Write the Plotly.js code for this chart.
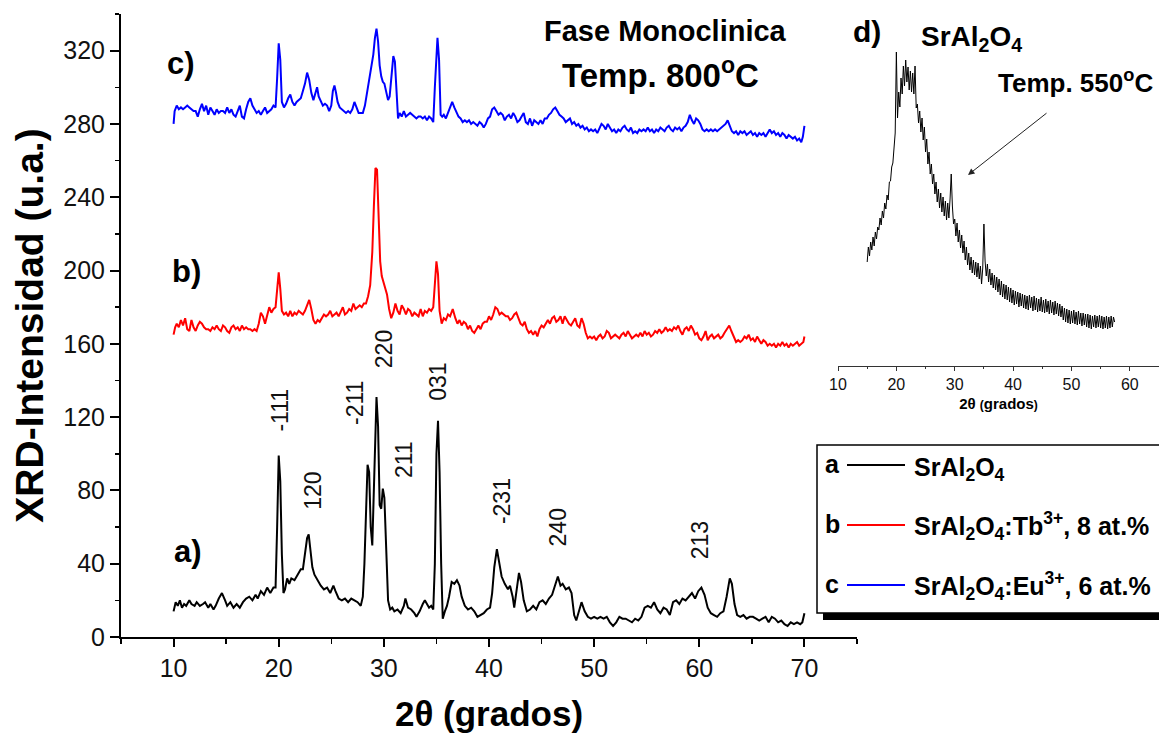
<!DOCTYPE html>
<html>
<head>
<meta charset="utf-8">
<script src="https://cdn.plot.ly/plotly-3.0.1.min.js"></script>
<style>html,body{margin:0;padding:0;background:#fff;}#chart{width:1159px;height:734px;}</style>
</head>
<body>
<div id="chart"></div>
<script>
// ---- Data: series a (SrAl2O4), b (Tb3+), c (Eu3+) ----
const xA = [10.0,10.2,10.4,10.6,10.8,11.0,11.2,11.5,11.7,12.0,12.2,12.5,12.8,13.0,13.3,13.5,13.8,14.0,14.3,14.6,14.9,15.1,15.4,15.7,16.0,16.3,16.6,16.9,17.2,17.5,17.8,18.0,18.3,18.6,18.9,19.2,19.5,19.7,19.85,20.0,20.15,20.3,20.45,20.6,20.8,21.0,21.2,21.5,21.8,22.1,22.3,22.5,22.7,22.85,23.0,23.2,23.4,23.7,24.0,24.3,24.6,24.9,25.2,25.4,25.7,26.0,26.3,26.6,26.9,27.2,27.5,27.8,28.0,28.15,28.3,28.45,28.6,28.75,28.9,29.05,29.2,29.3,29.45,29.6,29.75,29.9,30.05,30.2,30.4,30.6,30.8,31.0,31.3,31.6,31.9,32.05,32.3,32.6,32.9,33.1,33.4,33.7,33.9,34.1,34.3,34.5,34.7,34.85,35.0,35.15,35.3,35.45,35.6,35.8,36.0,36.2,36.45,36.7,36.95,37.2,37.4,37.7,38.0,38.3,38.6,38.9,39.2,39.5,39.8,40.1,40.3,40.5,40.75,40.95,41.2,41.5,41.8,42.0,42.25,42.4,42.6,42.85,43.05,43.3,43.6,43.9,44.2,44.5,44.8,45.1,45.4,45.7,46.0,46.3,46.55,46.8,47.0,47.3,47.6,47.85,48.1,48.3,48.55,48.8,49.1,49.4,49.7,50.0,50.3,50.6,50.9,51.2,51.5,51.8,52.1,52.4,52.7,53.0,53.3,53.6,53.9,54.2,54.5,54.8,55.1,55.4,55.7,56.0,56.3,56.6,56.9,57.2,57.5,57.8,58.1,58.4,58.7,59.0,59.3,59.6,59.9,60.2,60.5,60.8,61.1,61.4,61.7,62.0,62.3,62.6,62.9,63.1,63.35,63.6,63.9,64.2,64.5,64.8,65.1,65.4,65.7,66.0,66.3,66.6,66.9,67.2,67.5,67.8,68.1,68.4,68.7,69.0,69.3,69.6,69.8,70.0];
const yA = [14,19,17,20,16,18,17,20,18,17,19,17,18,19,16,18,15,17,21,24,20,17,19,16,18,16,19,21,22,20,23,21,25,23,27,24,27,27,60,99,85,45,24,26,32,29,32,31,34,37,37,45,54,56,48,38,34,31,28,26,27,24,28,25,21,20,21,19,21,20,19,17,22,40,75,94,90,60,50,85,120,131,115,72,70,81,76,50,20,15,16,14,15,13,17,21,16,15,13,11,14,18,20,18,16,17,15,40,100,118,90,40,10,14,17,22,30,29,31,28,22,17,15,16,14,11,12,13,15,16,24,38,48,42,33,29,26,28,22,16,25,35,30,20,14,15,17,15,19,20,18,21,23,29,33,28,29,26,27,24,12,9,14,19,14,11,10,11,10,11,10,11,8,6,8,11,10,10,9,8,10,9,11,16,17,16,19,15,13,16,15,12,19,20,18,21,20,22,24,21,25,27,23,16,13,12,11,13,14,22,32,29,18,12,11,12,10,11,11,10,9,10,11,8,11,10,8,9,7,6,8,7,8,7,8,13];

const xB = [10.0,10.15,10.3,10.5,10.7,10.9,11.1,11.3,11.5,11.7,11.9,12.1,12.3,12.5,12.7,12.9,13.1,13.3,13.5,13.7,13.9,14.1,14.3,14.5,14.7,14.9,15.1,15.3,15.5,15.7,15.9,16.1,16.3,16.5,16.7,16.9,17.1,17.3,17.5,17.7,17.9,18.1,18.3,18.5,18.7,18.9,19.1,19.3,19.5,19.7,19.85,20.0,20.15,20.3,20.5,20.7,20.9,21.1,21.3,21.5,21.7,21.9,22.1,22.3,22.5,22.7,22.9,23.1,23.3,23.5,23.7,23.9,24.1,24.3,24.5,24.7,24.9,25.1,25.3,25.5,25.7,25.9,26.1,26.3,26.5,26.7,26.9,27.1,27.3,27.5,27.7,27.9,28.1,28.3,28.5,28.7,28.9,29.05,29.2,29.35,29.5,29.65,29.8,29.95,30.1,30.3,30.5,30.7,30.9,31.1,31.3,31.5,31.7,31.9,32.1,32.3,32.5,32.7,32.9,33.1,33.3,33.5,33.7,33.9,34.1,34.3,34.5,34.7,34.85,35.0,35.15,35.3,35.5,35.7,35.9,36.1,36.3,36.55,36.8,37.0,37.2,37.4,37.6,37.8,38.0,38.2,38.4,38.6,38.8,39.0,39.2,39.4,39.6,39.8,40.0,40.2,40.4,40.6,40.8,41.0,41.2,41.4,41.6,41.8,42.0,42.2,42.4,42.6,42.8,43.0,43.2,43.4,43.6,43.8,44.0,44.2,44.4,44.6,44.8,45.0,45.2,45.4,45.6,45.8,46.0,46.2,46.4,46.6,46.8,47.0,47.2,47.4,47.6,47.8,48.0,48.2,48.4,48.6,48.8,49.0,49.2,49.4,49.6,49.8,50.0,50.2,50.4,50.6,50.8,51.0,51.2,51.4,51.6,51.8,52.0,52.2,52.4,52.6,52.8,53.0,53.2,53.4,53.6,53.8,54.0,54.2,54.4,54.6,54.8,55.0,55.2,55.4,55.6,55.8,56.0,56.2,56.4,56.6,56.8,57.0,57.2,57.4,57.6,57.8,58.0,58.2,58.4,58.6,58.8,59.0,59.2,59.4,59.6,59.8,60.0,60.2,60.4,60.6,60.8,61.0,61.2,61.4,61.6,61.8,62.0,62.2,62.4,62.6,62.85,63.05,63.3,63.5,63.7,63.9,64.1,64.3,64.5,64.7,64.9,65.1,65.3,65.5,65.7,65.9,66.1,66.3,66.5,66.7,66.9,67.1,67.3,67.5,67.7,67.9,68.1,68.3,68.5,68.7,68.9,69.1,69.3,69.5,69.7,69.9,70.0];
const yB = [165,169,171,169,173,170,174,168,167,173,169,167,170,172,171,169,168,168,167,169,168,170,168,167,170,169,167,166,169,170,168,169,167,170,168,169,168,168,167,168,167,171,177,175,171,176,180,177,179,180,190,199,190,178,176,177,175,178,175,177,176,178,177,176,178,181,184,179,173,171,173,172,174,176,175,176,178,175,176,177,175,178,180,176,177,179,178,182,179,180,181,180,182,182,186,192,210,235,256,255,230,205,197,194,190,187,179,174,177,182,178,176,181,179,176,179,178,175,177,176,175,179,175,178,177,179,178,180,195,205,198,178,171,174,173,176,175,179,174,171,173,170,172,171,168,170,167,166,168,170,168,171,172,172,175,173,176,180,179,176,177,176,175,175,173,174,176,177,174,171,170,172,168,166,167,165,167,164,168,170,169,171,173,171,174,175,172,173,175,171,175,173,171,170,172,174,170,169,174,171,166,163,164,163,164,162,164,165,163,164,167,166,163,164,165,164,163,165,166,164,167,165,163,164,165,164,166,164,167,165,166,164,165,167,166,168,166,167,169,167,168,167,169,168,170,167,165,168,169,167,170,168,165,166,163,162,164,167,162,164,165,163,164,165,163,164,166,168,170,167,163,161,162,161,162,164,163,165,162,163,161,164,162,160,162,161,159,160,159,160,158,160,159,161,159,160,158,160,159,160,161,159,160,161,164];

const xC = [10.0,10.1,10.3,10.5,10.7,10.9,11.1,11.3,11.5,11.7,11.9,12.1,12.3,12.5,12.7,12.9,13.1,13.3,13.5,13.7,13.9,14.1,14.3,14.5,14.7,14.9,15.1,15.3,15.5,15.7,15.9,16.1,16.3,16.5,16.7,16.9,17.1,17.3,17.5,17.7,17.9,18.1,18.3,18.5,18.7,18.9,19.1,19.3,19.5,19.7,19.85,20.0,20.15,20.3,20.5,20.7,20.9,21.1,21.3,21.5,21.7,21.9,22.1,22.3,22.5,22.7,22.9,23.1,23.3,23.5,23.65,23.8,24.0,24.2,24.4,24.6,24.8,25.0,25.15,25.3,25.45,25.6,25.8,26.0,26.2,26.4,26.6,26.8,27.0,27.2,27.4,27.6,27.8,28.0,28.2,28.4,28.6,28.8,29.0,29.15,29.3,29.45,29.6,29.75,29.9,30.05,30.2,30.4,30.55,30.75,30.9,31.05,31.2,31.35,31.5,31.7,31.9,32.1,32.3,32.5,32.7,32.9,33.1,33.3,33.5,33.7,33.9,34.1,34.3,34.5,34.7,34.85,35.0,35.1,35.25,35.4,35.55,35.7,35.9,36.1,36.3,36.5,36.7,36.9,37.1,37.3,37.5,37.7,37.9,38.1,38.3,38.5,38.7,38.9,39.1,39.3,39.5,39.7,39.9,40.1,40.3,40.5,40.7,40.9,41.1,41.3,41.5,41.7,41.9,42.1,42.3,42.5,42.7,42.9,43.1,43.3,43.5,43.7,43.9,44.1,44.3,44.5,44.7,44.9,45.1,45.3,45.5,45.7,45.9,46.1,46.3,46.5,46.7,46.9,47.1,47.3,47.5,47.7,47.9,48.1,48.3,48.5,48.7,48.9,49.1,49.3,49.5,49.7,49.9,50.1,50.3,50.5,50.7,50.9,51.1,51.3,51.5,51.7,51.9,52.1,52.3,52.5,52.7,52.9,53.1,53.3,53.5,53.7,53.9,54.1,54.3,54.5,54.7,54.9,55.1,55.3,55.5,55.7,55.9,56.1,56.3,56.5,56.7,56.9,57.1,57.3,57.5,57.7,57.9,58.1,58.3,58.5,58.7,58.9,59.1,59.3,59.5,59.7,59.9,60.1,60.3,60.5,60.7,60.9,61.1,61.3,61.5,61.7,61.9,62.1,62.3,62.5,62.7,62.9,63.1,63.3,63.5,63.7,63.9,64.1,64.3,64.5,64.7,64.9,65.1,65.3,65.5,65.7,65.9,66.1,66.3,66.5,66.7,66.9,67.1,67.3,67.5,67.7,67.9,68.1,68.3,68.5,68.7,68.9,69.1,69.3,69.5,69.7,69.85,70.0];
const yC = [280,287,290,288,289,288,289,290,289,288,287,287,284,288,291,287,290,285,289,287,285,288,286,287,287,286,289,286,288,285,284,287,290,284,283,288,292,294,290,288,286,287,285,287,289,286,287,288,290,289,305,324,315,292,289,291,294,296,292,290,292,293,294,298,302,308,304,297,293,297,300,295,292,290,291,290,287,290,298,301,297,292,289,288,287,286,287,286,288,292,289,286,286,286,290,297,303,309,318,327,332,325,312,306,303,302,298,293,295,310,317,314,295,283,286,284,287,284,285,286,285,284,283,284,284,283,284,282,284,283,281,300,322,327,315,285,284,285,283,286,289,292,289,286,284,283,281,282,281,282,280,281,280,279,281,280,278,280,283,284,288,289,287,285,286,285,282,284,285,283,286,284,281,282,284,286,281,280,283,279,282,281,280,282,280,283,283,285,286,288,289,287,285,284,283,281,282,283,280,281,279,280,278,279,277,278,276,277,276,277,275,278,280,279,277,280,278,276,277,275,277,276,278,279,277,276,278,275,276,275,277,276,277,276,278,276,277,275,277,276,278,277,276,278,279,277,276,278,277,278,276,278,279,281,285,282,280,283,282,280,277,276,277,276,277,276,277,276,277,278,279,280,282,279,276,275,276,274,276,275,276,274,275,276,274,275,273,275,274,275,273,275,277,275,276,274,275,273,275,274,272,274,273,272,273,271,272,270,273,279];

// ---- Inset d): SrAl2O4 at 550 °C, sampled every 0.2° from 15° ----
const insetStart = 15.0, insetStep = 0.2;
const yD = [104,119,110,124,116,129,120,134,127,139,136,148,141,155,148,163,157,171,166,184,185,199,203,222,233,314,248,274,259,288,272,300,280,306,284,299,276,295,274,293,272,300,258,262,243,255,234,248,226,239,214,227,202,214,192,202,182,192,172,184,164,177,158,173,154,169,150,165,146,163,148,167,192,160,142,147,130,143,124,136,118,131,113,125,106,119,101,113,96,109,93,106,91,104,89,103,87,100,82,98,142,105,90,102,84,97,81,93,78,91,76,89,74,87,71,85,69,82,67,81,66,79,64,78,63,76,61,75,62,74,59,73,60,72,58,71,57,70,56,71,58,69,55,70,56,68,54,67,55,69,54,66,53,67,54,65,52,66,53,64,51,65,52,63,50,62,49,60,46,58,44,57,43,56,42,55,43,56,42,54,41,55,42,53,40,53,41,52,39,52,38,51,37,50,39,51,38,50,39,51,38,50,37,49,38,50,37,49,38,50,39,49,44];

// ---- Labels ----
const mainTicks = [0,40,80,120,160,200,240,280,320];
const xTicks = [10,20,30,40,50,60,70];
const insetTicks = [10,20,30,40,50,60];
const peakLabels = ['-111','120','-211','220','211','031','-231','240','213'];
const peakX = [20.1,23.3,27.3,30.0,31.9,35.2,41.3,46.6,60.1];
const peakY = [124,80,128,157,97,139,74,60,53];
const seriesNames = ['SrAl<sub>2</sub>O<sub>4</sub>','SrAl<sub>2</sub>O<sub>4</sub>:Tb<sup>3+</sup>, 8 at.%','SrAl<sub>2</sub>O<sub>4</sub>:Eu<sup>3+</sup>, 6 at.%'];
const seriesLetters = ['a','b','c'];
const seriesColors = ['#000000','#ff0000','#0000ff'];

const W = 1159, H = 734;
const FONT = 'Liberation Sans, Arial, Helvetica, sans-serif';
const px = v => v / W;
const py = v => 1 - v / H;

const traces = [
  {x: xA, y: yA, type: 'scatter', mode: 'lines', line: {color: seriesColors[0], width: 2}, xaxis: 'x', yaxis: 'y', name: 'a'},
  {x: xB, y: yB, type: 'scatter', mode: 'lines', line: {color: seriesColors[1], width: 2}, xaxis: 'x', yaxis: 'y', name: 'b'},
  {x: xC, y: yC, type: 'scatter', mode: 'lines', line: {color: seriesColors[2], width: 2}, xaxis: 'x', yaxis: 'y', name: 'c'},
  {x0: insetStart, dx: insetStep, y: yD, type: 'scatter', mode: 'lines', line: {color: '#000', width: 1}, xaxis: 'x2', yaxis: 'y2', name: 'd'}
];

function txt(text, x, y, size, opts) {
  return Object.assign({text: text, x: px(x), y: py(y), xref: 'paper', yref: 'paper',
    xanchor: 'center', yanchor: 'middle', showarrow: false,
    font: {family: FONT, size: size, color: '#000'}}, opts || {});
}

const annotations = [];
// panel letters and headings
annotations.push(txt('<b>c)</b>', 181, 64, 31));
annotations.push(txt('<b>b)</b>', 186, 272, 31));
annotations.push(txt('<b>a)</b>', 188, 551, 31));
annotations.push(txt('<b>Fase Monoclinica</b>', 665, 31, 29));
annotations.push(txt('<b>Temp. 800<sup>o</sup>C</b>', 660, 73, 33));
// inset texts
annotations.push(txt('<b>d)</b>', 867, 31, 30));
annotations.push(txt('<b>SrAl<sub>2</sub>O<sub>4</sub></b>', 919, 39, 28, {xanchor: 'left'}));
annotations.push(txt('<b>Temp. 550<sup>o</sup>C</b>', 996, 82, 26, {xanchor: 'left'}));
annotations.push({text: '', x: px(968), y: py(175), xref: 'paper', yref: 'paper', ax: 80, ay: -63,
  showarrow: true, arrowhead: 2, arrowsize: 1.3, arrowwidth: 1, arrowcolor: '#222', standoff: 0});
// peak labels (hkl)
for (let i = 0; i < peakLabels.length; i++) {
  annotations.push({text: peakLabels[i], x: peakX[i], y: peakY[i], xref: 'x', yref: 'y', textangle: -90,
    xanchor: 'center', yanchor: 'middle', showarrow: false, font: {family: FONT, size: 23, color: '#111'}});
}
// legend entries
const legendRows = [465, 525, 585];
const legendTextY = [469, 526, 586];
for (let i = 0; i < 3; i++) {
  annotations.push(txt('<b>' + seriesLetters[i] + '</b>', 832, legendRows[i] - 1, 25));
  annotations.push(txt('<b>' + seriesNames[i] + '</b>', 912, legendTextY[i], 25, {xanchor: 'left'}));
}

const shapes = [
  {type: 'rect', xref: 'paper', yref: 'paper', x0: px(823), x1: 1.02, y0: py(620), y1: py(612), fillcolor: '#000', line: {width: 0}},
  {type: 'rect', xref: 'paper', yref: 'paper', x0: px(817), x1: 1.02, y0: py(613), y1: py(445), fillcolor: '#fff', line: {color: '#000', width: 1.5}}
];
for (let i = 0; i < 3; i++) {
  shapes.push({type: 'line', xref: 'paper', yref: 'paper', x0: px(847), x1: px(905), y0: py(legendRows[i]), y1: py(legendRows[i]), line: {color: seriesColors[i], width: 2}});
}

const layout = {
  width: W, height: H,
  margin: {l: 0, r: 0, t: 0, b: 0},
  paper_bgcolor: '#fff', plot_bgcolor: 'rgba(0,0,0,0)',
  showlegend: false,
  font: {family: FONT, color: '#000'},
  xaxis: {
    domain: [px(121), px(857)], range: [5, 75], anchor: 'y',
    showline: true, linewidth: 2, linecolor: '#000', showgrid: false, zeroline: false,
    ticks: 'outside', ticklen: 8, tickwidth: 2, tickcolor: '#000',
    tickmode: 'array', tickvals: xTicks,
    minor: {tickmode: 'linear', tick0: 5, dtick: 5, ticks: 'outside', ticklen: 5, tickwidth: 1.5, tickcolor: '#000'},
    tickfont: {family: FONT, size: 25, color: '#111'},
    title: {text: '<b>2θ (grados)</b>', font: {family: FONT, size: 35, color: '#000'}, standoff: 20}
  },
  yaxis: {
    domain: [py(637), py(14)], range: [0, 340], anchor: 'x',
    showline: true, linewidth: 2, linecolor: '#000', showgrid: false, zeroline: false,
    ticks: 'outside', ticklen: 9, tickwidth: 2, tickcolor: '#000',
    tickmode: 'array', tickvals: mainTicks,
    minor: {tickmode: 'linear', tick0: 0, dtick: 20, ticks: 'outside', ticklen: 4, tickwidth: 1.5, tickcolor: '#000'},
    tickfont: {family: FONT, size: 25, color: '#111'},
    title: {text: '<b>XRD-Intensidad (u.a.)</b>', font: {family: FONT, size: 39, color: '#000'}, standoff: 8}
  },
  xaxis2: {
    domain: [px(838), 1], range: [10, 65], anchor: 'y2',
    showline: true, linewidth: 1, linecolor: '#333', showgrid: false, zeroline: false,
    ticks: 'outside', ticklen: 4, tickwidth: 1, tickcolor: '#333',
    tickmode: 'array', tickvals: insetTicks,
    minor: {tickmode: 'linear', tick0: 5, dtick: 5, ticks: 'outside', ticklen: 2, tickwidth: 1, tickcolor: '#333'},
    tickfont: {family: FONT, size: 16, color: '#111'},
    title: {text: '<b>2θ <span style="font-size:12px">(</span>grados<span style="font-size:12px">)</span></b>', font: {family: FONT, size: 15, color: '#000'}, standoff: 6}
  },
  yaxis2: {
    domain: [py(366), py(40)], range: [0, 326], anchor: 'x2', visible: false
  },
  annotations: annotations,
  shapes: shapes
};

Plotly.newPlot('chart', traces, layout, {staticPlot: true, displayModeBar: false});
</script>
</body>
</html>
